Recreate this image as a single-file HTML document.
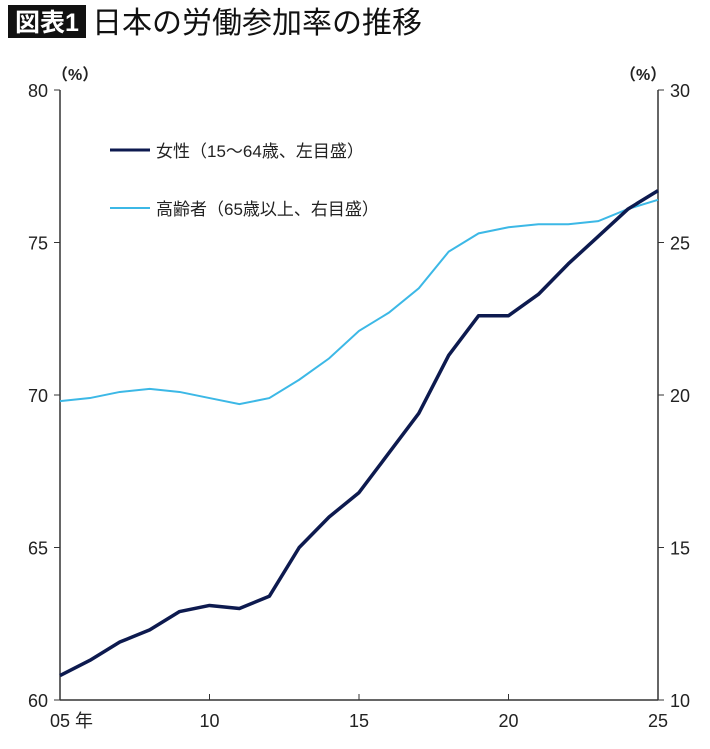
<!DOCTYPE html>
<html><head><meta charset="utf-8"><style>
body{margin:0;background:#fff;width:710px;height:744px;overflow:hidden;font-family:"Liberation Sans","Noto Sans CJK JP",sans-serif}
</style></head><body>
<svg width="710" height="744" style="font-family:'Liberation Sans','Noto Sans CJK JP',sans-serif">
<rect x="8" y="5" width="78" height="33" fill="#111"/>
<text x="47" y="31" font-size="25" fill="#fff" text-anchor="middle" font-weight="bold">図表1</text>
<text x="92" y="33" font-size="30" fill="#111">日本の労働参加率の推移</text>
<g id="axes"></g>
<g id="series"></g>
<line x1="110" y1="150" x2="150" y2="150" stroke="#0d1a4f" stroke-width="3"/>
<text x="156" y="157" font-size="17" fill="#222">女性（15～64歳、左目盛）</text>
<line x1="110" y1="208" x2="150" y2="208" stroke="#3cb8e6" stroke-width="2"/>
<text x="156" y="215" font-size="17" fill="#222">高齢者（65歳以上、右目盛）</text>
</svg>
<script>
const years=[2005,2006,2007,2008,2009,2010,2011,2012,2013,2014,2015,2016,2017,2018,2019,2020,2021,2022,2023,2024,2025];
const women=[60.8,61.3,61.9,62.3,62.9,63.1,63.0,63.4,65.0,66.0,66.8,68.1,69.4,71.3,72.6,72.6,73.3,74.3,75.2,76.1,76.7];
const elderly=[19.8,19.9,20.1,20.2,20.1,19.9,19.7,19.9,20.5,21.2,22.1,22.7,23.5,24.7,25.3,25.5,25.6,25.6,25.7,26.1,26.4];
const leftTicks=[60,65,70,75,80];
const rightTicks=[10,15,20,25,30];
const xTicks=[2005,2010,2015,2020,2025];
const xTickLabels=["05 年","10","15","20","25"];
const NS="http://www.w3.org/2000/svg";
const X0=60,X1=658,Y0=700,Y1=90;
const x=v=>X0+(v-2005)/20*(X1-X0);
const yL=v=>Y0-(v-60)/20*(Y0-Y1);
const yR=v=>Y0-(v-10)/20*(Y0-Y1);
function mk(tag,attrs,parent){const e=document.createElementNS(NS,tag);for(const k in attrs)e.setAttribute(k,attrs[k]);parent.appendChild(e);return e;}
const ax=document.getElementById('axes'),se=document.getElementById('series');
let e;
e=mk('line',{x1:X0,y1:Y1,x2:X0,y2:Y0,stroke:'#333','stroke-width':1.5},ax);


e=mk('line',{x1:X1,y1:Y1,x2:X1,y2:Y0,stroke:'#333','stroke-width':1.5},ax);


e=mk('line',{x1:X0,y1:Y0,x2:X1,y2:Y0,stroke:'#333','stroke-width':1.5},ax);


leftTicks.forEach(t=>{const y=yL(t);mk('line',{x1:X0-6,y1:y,x2:X0,y2:y,stroke:'#333'},ax);
const tx=mk('text',{x:X0-12,y:y+7,'font-size':18,'text-anchor':'end',fill:'#222'},ax);tx.textContent=t;

});
rightTicks.forEach(t=>{const y=yR(t);mk('line',{x1:X1,y1:y,x2:X1+6,y2:y,stroke:'#333'},ax);
const tx=mk('text',{x:X1+12,y:y+7,'font-size':18,fill:'#222'},ax);tx.textContent=t;

});
xTicks.forEach((t,i)=>{const xx=x(t);mk('line',{x1:xx,y1:Y0-6,x2:xx,y2:Y0,stroke:'#333'},ax);
const tx=mk('text',{x:i==0?50:xx,y:Y0+27,'font-size':18,'text-anchor':i==0?'start':'middle',fill:'#222'},ax);tx.textContent=xTickLabels[i];

});
e=mk('text',{x:52,y:80,'font-size':16,'font-weight':'bold',fill:'#222'},ax);e.textContent='（%）';


e=mk('text',{x:620,y:80,'font-size':16,'font-weight':'bold',fill:'#222'},ax);e.textContent='（%）';


e=mk('polyline',{points:years.map((yr,i)=>x(yr)+','+yR(elderly[i])).join(' '),fill:'none',stroke:'#3cb8e6','stroke-width':2},se);


e=mk('polyline',{points:years.map((yr,i)=>x(yr)+','+yL(women[i])).join(' '),fill:'none',stroke:'#0d1a4f','stroke-width':3.5,'stroke-linejoin':'round'},se);


</script>
</body></html>
